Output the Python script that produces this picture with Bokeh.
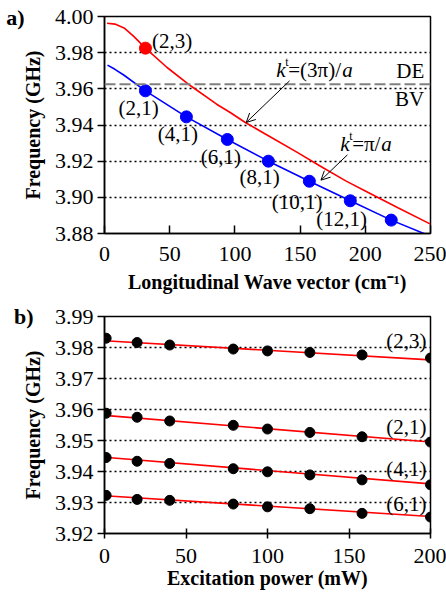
from bokeh.plotting import figure
from bokeh.layouts import column
from bokeh.models import (FixedTicker, NumeralTickFormatter, Arrow, OpenHead,
                          Span, ColumnDataSource, LinearAxis, CustomJSTickFormatter)
from bokeh.core.properties import value
from bokeh.embed import file_html
from bokeh.resources import INLINE

SERIF = "Liberation Serif"

# ---------------- panel a data ----------------
red_curve_k = [2, 8, 15, 22, 31.4, 48, 66, 86, 96.4, 108, 127, 147.5, 165, 185, 200, 225, 250]
red_curve_f = [3.9963, 3.9958, 3.9937, 3.9893, 3.9825, 3.9718, 3.9617, 3.9515, 3.9469,
               3.9414, 3.9335, 3.9250, 3.9175, 3.9091, 3.9035, 3.8942, 3.8852]
blue_curve_k = [2.3, 8, 15, 31.4, 62.8, 94.2, 125.7, 157.1, 188.5, 219.9, 250]
blue_curve_f = [3.9731, 3.9708, 3.9675, 3.9589, 3.9445, 3.9320, 3.9200, 3.9089,
                3.8981, 3.8874, 3.8785]
red_point_k = [31.4]
red_point_f = [3.9825]
blue_point_k = [31.4, 62.8, 94.2, 125.7, 157.1, 188.5, 219.9]
blue_point_f = [3.9589, 3.9445, 3.9320, 3.9200, 3.9089, 3.8981, 3.8874]
de_bv_boundary = 3.9626

modes_a = ["(2,3)", "(2,1)", "(4,1)", "(6,1)", "(8,1)", "(10,1)", "(12,1)"]
modes_a_x = [51.9, 26.1, 56.3, 89.3, 119.0, 147.8, 181.8]
modes_a_y = [3.9865, 3.9493, 3.9349, 3.9224, 3.9110, 3.8975, 3.8879]

ticks_a_x = [0, 50, 100, 150, 200, 250]
ticks_a_y = [3.88, 3.90, 3.92, 3.94, 3.96, 3.98, 4.00]

# ---------------- panel b data ----------------
power = [1, 20, 40, 79, 100, 126, 158, 200]
f_23 = [3.9830, 3.9816, 3.9808, 3.9795, 3.9789, 3.9784, 3.9776, 3.9766]
f_21 = [3.9588, 3.9575, 3.9563, 3.9549, 3.9537, 3.9526, 3.9512, 3.9495]
f_41 = [3.9445, 3.9433, 3.9426, 3.9409, 3.9399, 3.9389, 3.9373, 3.9357]
f_61 = [3.9323, 3.9310, 3.9307, 3.9295, 3.9286, 3.9280, 3.9265, 3.9253]
fit_power = [0, 200]
fit_23 = [3.9822, 3.9760]
fit_21 = [3.9581, 3.9495]
fit_41 = [3.9446, 3.9360]
fit_61 = [3.9322, 3.9255]

modes_b = ["(2,3)", "(2,1)", "(4,1)", "(6,1)"]
modes_b_x = [197.5, 197.5, 197.5, 197.5]
modes_b_y = [3.9822, 3.9544, 3.9408, 3.9295]

ticks_b_x = [0, 50, 100, 150, 200]
ticks_b_y = [3.92, 3.93, 3.94, 3.95, 3.96, 3.97, 3.98, 3.99]


def style(p, xticks, yticks, tick_in_x, tick_out_x, xstand, xlabstand):
    p.outline_line_color = "black"
    p.outline_line_width = 1.5
    p.xgrid.visible = False
    p.ygrid.grid_line_color = "black"
    p.ygrid.grid_line_dash = "2 3"
    p.ygrid.grid_line_width = 1.3
    p.ygrid.ticker = FixedTicker(ticks=yticks)
    p.xaxis.ticker = FixedTicker(ticks=xticks)
    p.yaxis.ticker = FixedTicker(ticks=yticks)
    p.yaxis.formatter = NumeralTickFormatter(format="0.00")
    for ax in (p.xaxis[0], p.yaxis[0]):
        ax.axis_line_color = "black"
        ax.axis_line_width = 1.5
        ax.major_tick_line_width = 1.5
        ax.minor_tick_line_color = None
        ax.major_label_text_font = SERIF
        ax.major_label_text_font_size = "22px"
        ax.major_label_text_color = "black"
        ax.axis_label_text_font = SERIF
        ax.axis_label_text_font_style = "bold"
        ax.axis_label_text_font_size = "20px"
        ax.axis_label_text_color = "black"
    p.xaxis.major_tick_in = tick_in_x
    p.xaxis.major_tick_out = tick_out_x
    p.yaxis.major_tick_in = 0
    p.yaxis.major_tick_out = 7
    p.xaxis.major_label_standoff = xstand
    p.yaxis.major_label_standoff = 4
    p.xaxis.axis_label_standoff = xlabstand
    p.yaxis.axis_label_standoff = 8


def panel_letter(p, letter, at, standoff):
    ax = LinearAxis(ticker=FixedTicker(ticks=[at]),
                    formatter=CustomJSTickFormatter(code="return '%s';" % letter),
                    axis_line_color=None, major_tick_line_color=None,
                    minor_tick_line_color=None, major_tick_in=0, major_tick_out=0,
                    major_label_standoff=standoff, major_label_text_font=SERIF,
                    major_label_text_font_style="bold",
                    major_label_text_font_size="22px",
                    major_label_text_color="black")
    p.add_layout(ax, "left")


# ---------------- panel a ----------------
pa = figure(width=446, height=300, x_range=(0, 250), y_range=(3.88, 4.00),
            output_backend="svg", toolbar_location=None,
            min_border_left=104, min_border_right=16, min_border_top=16,
            min_border_bottom=67, background_fill_color="white",
            border_fill_color="white")
style(pa, ticks_a_x, ticks_a_y, 8, 0, 13, 7)
pa.xaxis.axis_label = "Longitudinal Wave vector (cm\u207b\u00b9)"
pa.yaxis.axis_label = "Frequency (GHz)"
panel_letter(pa, "a)", 3.9993, -6)

pa.add_layout(Span(location=de_bv_boundary, dimension="width", line_color="#808080",
                   line_width=2, line_dash="11 4"))
pa.line(red_curve_k, red_curve_f, line_color="#ff0000", line_width=1.6)
pa.line(blue_curve_k, blue_curve_f, line_color="#0000ff", line_width=1.6)
pa.scatter(red_point_k, red_point_f, size=12, color="#ff0000")
pa.scatter(blue_point_k, blue_point_f, size=12, color="#0000ff")

src_a = ColumnDataSource(dict(x=modes_a_x, y=modes_a_y, t=modes_a))
pa.text("x", "y", text="t", source=src_a, text_font=value(SERIF),
        text_font_size="21px", text_align="center", text_baseline="middle",
        text_color="black")
pa.text([245.2], [3.9700], text=["DE"], text_font=value(SERIF), text_font_size="21px",
        text_align="right", text_baseline="middle", text_color="black")
pa.text([245.2], [3.9543], text=["BV"], text_font=value(SERIF), text_font_size="21px",
        text_align="right", text_baseline="middle", text_color="black")


def kt_label(p, x, y, rest, w):
    p.text([x], [y], text=["k"], text_font=value(SERIF), text_font_style="italic",
           text_font_size="21px", text_align="left", text_baseline="middle")
    p.text([x], [y], text=["t"], text_font=value(SERIF), text_font_size="12px",
           text_align="left", text_baseline="middle", x_offset=9, y_offset=-8)
    p.text([x], [y], text=[rest], text_font=value(SERIF), text_font_size="21px",
           text_align="left", text_baseline="middle", x_offset=12)
    p.text([x], [y], text=["a"], text_font=value(SERIF), text_font_style="italic",
           text_font_size="21px", text_align="left", text_baseline="middle",
           x_offset=12 + w)


kt_label(pa, 131.7, 3.9703, "=(3\u03c0)/", 54)
kt_label(pa, 180.7, 3.9294, "=\u03c0/", 29)

pa.add_layout(Arrow(x_start=141.9, y_start=3.9644, x_end=108.7, y_end=3.9414,
                    line_width=1, line_color="black",
                    end=OpenHead(size=9, line_width=1, line_color="black")))
pa.add_layout(Arrow(x_start=186.3, y_start=3.9235, x_end=166.0, y_end=3.9095,
                    line_width=1, line_color="black",
                    end=OpenHead(size=9, line_width=1, line_color="black")))

# ---------------- panel b ----------------
pb = figure(width=446, height=292, x_range=(0, 200), y_range=(3.92, 3.99),
            output_backend="svg", toolbar_location=None,
            min_border_left=104, min_border_right=16, min_border_top=16,
            min_border_bottom=59, background_fill_color="white",
            border_fill_color="white")
style(pb, ticks_b_x, ticks_b_y, 5, 5, 10, 1)
pb.xaxis.axis_label = "Excitation power (mW)"
pb.yaxis.axis_label = "Frequency (GHz)"
panel_letter(pb, "b)", 3.9900, -15)

for fit in (fit_23, fit_21, fit_41, fit_61):
    pb.line(fit_power, fit, line_color="#ff0000", line_width=1.6)
for fs in (f_23, f_21, f_41, f_61):
    pb.scatter(power, fs, size=10, color="black")

src_b = ColumnDataSource(dict(x=modes_b_x, y=modes_b_y, t=modes_b))
pb.text("x", "y", text="t", source=src_b, text_font=value(SERIF),
        text_font_size="21px", text_align="right", text_baseline="middle",
        text_color="black")

layout = column(pa, pb, spacing=0)
open("out.html", "w").write(file_html(layout, INLINE))
